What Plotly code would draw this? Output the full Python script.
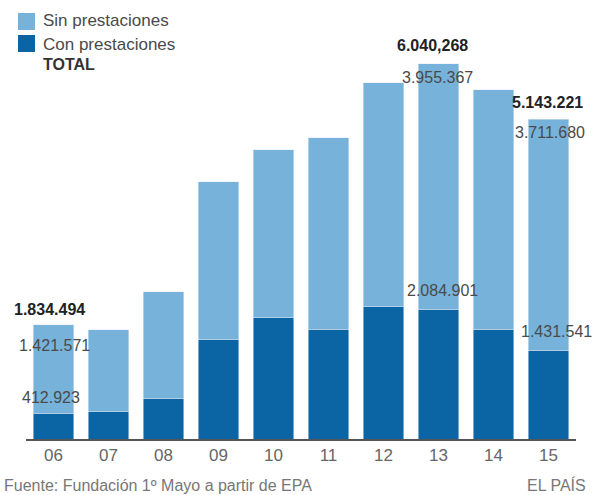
import plotly.graph_objects as go

# ---- data ----
years = ["06", "07", "08", "09", "10", "11", "12", "13", "14", "15"]
con_prestaciones = [412923, 440000, 655000, 1594000, 1953000, 1766000, 2130000, 2084901, 1766000, 1431541]
totales = [1834494, 1755000, 2372000, 4140000, 4650000, 4850000, 5730000, 6040268, 5620000, 5143221]
sin_prestaciones = [t - c for t, c in zip(totales, con_prestaciones)]
sin_prestaciones[0] = 1421571
sin_prestaciones[7] = 3955367
sin_prestaciones[9] = 3711680
labelled = [0, 7, 9]

LIGHT = "#76b2da"
DARK = "#0b65a5"
FONT = "Liberation Sans, Arial, sans-serif"

W, H = 592, 495
L, R, T, B = 26, 16, 35, 56
PW, PH = W - L - R, H - T - B


def px(x):
    return (x - L) / PW


def py(y):
    return (H - B - y) / PH


def fmt(v):
    return f"{v:,}".replace(",", ".")


fig = go.Figure()
fig.add_trace(go.Bar(x=years, y=con_prestaciones, marker_color=DARK, name="Con prestaciones",
                     hoverinfo="skip"))
fig.add_trace(go.Bar(x=years, y=sin_prestaciones, marker_color=LIGHT, name="Sin prestaciones",
                     hoverinfo="skip"))

annotations = []
# label offsets for the three labelled bars: (dx_total, dy_total, dx_sin, dy_sin, dx_con, dy_con)
shifts = {0: (-4, 5, 1, -10, -3, 5),
          7: (-6, 8, -1, -3, 4, 8),
          9: (-1, 6, 1, -3, 8, 8)}
for i in labelled:
    tot = con_prestaciones[i] + sin_prestaciones[i]
    dxt, dyt, dxs, dys, dxc, dyc = shifts[i]
    totlabel = fmt(tot)
    if i == 7:
        totlabel = "6.040,268"
    annotations.append(dict(x=i, y=tot, xref="x", yref="y", text=f"<b>{totlabel}</b>",
                            showarrow=False, yanchor="bottom", xshift=dxt, yshift=dyt,
                            font=dict(family=FONT, size=16, color="#222")))
    annotations.append(dict(x=i, y=tot, xref="x", yref="y", text=fmt(sin_prestaciones[i]),
                            showarrow=False, yanchor="top", xshift=dxs, yshift=dys,
                            font=dict(family=FONT, size=16, color="#4a4a4a")))
    annotations.append(dict(x=i, y=con_prestaciones[i], xref="x", yref="y",
                            text=fmt(con_prestaciones[i]),
                            showarrow=False, yanchor="bottom", xshift=dxc, yshift=dyc,
                            font=dict(family=FONT, size=16, color="#4a4a4a")))

# custom legend
legend_items = [("Sin prestaciones", 21), ("Con prestaciones", 44)]
for text, yc in legend_items:
    annotations.append(dict(x=px(41), y=py(yc), xref="paper", yref="paper", text=text,
                            showarrow=False, xanchor="left", yanchor="middle",
                            font=dict(family=FONT, size=17, color="#4a4a4a")))
annotations.append(dict(x=px(41), y=py(65), xref="paper", yref="paper", text="<b>TOTAL</b>",
                        showarrow=False, xanchor="left", yanchor="middle",
                        font=dict(family=FONT, size=16, color="#333")))
# footer
annotations.append(dict(x=px(2), y=py(485), xref="paper", yref="paper",
                        text="Fuente: Fundación 1º Mayo a partir de EPA",
                        showarrow=False, xanchor="left", yanchor="middle",
                        font=dict(family=FONT, size=16, color="#777")))
annotations.append(dict(x=px(588), y=py(485), xref="paper", yref="paper", text="EL PAÍS",
                        showarrow=False, xanchor="right", yanchor="middle",
                        font=dict(family=FONT, size=16, color="#777")))

shapes = [
    dict(type="rect", xref="paper", yref="paper", x0=px(18), x1=px(35), y0=py(30), y1=py(13),
         fillcolor=LIGHT, line_width=0),
    dict(type="rect", xref="paper", yref="paper", x0=px(18), x1=px(35), y0=py(52), y1=py(35),
         fillcolor=DARK, line_width=0),
]

fig.update_layout(
    width=W, height=H,
    margin=dict(l=L, r=R, t=T, b=B, pad=0),
    barmode="stack", bargap=0.27,
    plot_bgcolor="white", paper_bgcolor="white",
    showlegend=False,
    annotations=annotations, shapes=shapes,
    xaxis=dict(type="category", range=[-0.5, 9.5], showline=True, linecolor="#555",
               linewidth=2, ticks="", showgrid=False, ticklabelstandoff=0,
               tickfont=dict(family=FONT, size=17, color="#666")),
    yaxis=dict(range=[0, 6.5e6], visible=False, showgrid=False),
)

fig.write_html("out.html")
